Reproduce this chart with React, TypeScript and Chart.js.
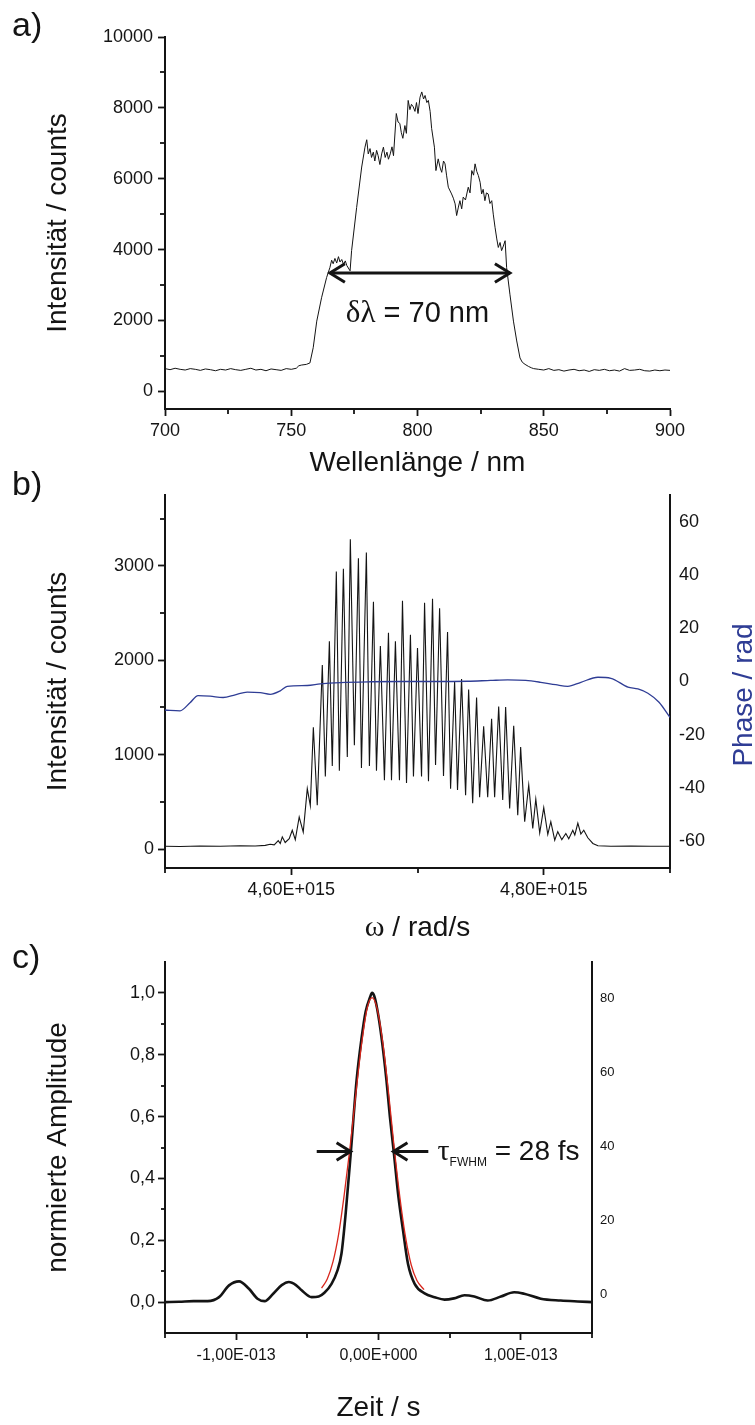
import React, { useEffect, useRef } from 'react';
import { Chart, registerables } from 'chart.js';

Chart.register(...registerables);

const SANS = '"Liberation Sans", Arial, Helvetica, sans-serif';
const SERIF = '"Liberation Serif", "Times New Roman", Times, serif';
const INK = '#141414';
const BLUE = '#2f3d95';
const RED = '#d8261c';

// ---------------- a) spectrum ----------------
const wavelengthA = [700, 702, 704, 706, 708, 710, 712, 714, 716, 718, 720, 722, 724, 726, 728, 730, 732, 734, 736, 738, 740, 742, 744, 746, 748, 750, 752, 753, 754, 756, 757.4, 758.7, 760.1, 762, 764, 765.3, 766, 766.6, 767.3, 768, 768.7, 769.3, 770, 770.7, 771.4, 772, 773.3, 773.9, 775.9, 777.9, 779.2, 779.9, 780.5, 781.2, 781.8, 782.5, 783.1, 783.8, 784.4, 785.1, 785.8, 786.5, 787.2, 787.9, 788.5, 789.2, 789.9, 790.5, 791.6, 792.3, 793, 793.6, 794.2, 795, 795.6, 796.3, 797, 797.6, 798.3, 799, 799.6, 800.2, 801, 801.7, 802.4, 803, 803.7, 804.3, 805, 805.6, 806.7, 807.3, 808.2, 809, 809.6, 810.3, 810.9, 811.5, 812.2, 813.5, 814.2, 814.9, 815.5, 816.2, 816.8, 817.5, 818.1, 819, 820.1, 820.8, 821.5, 822.2, 822.8, 823.5, 824.1, 824.8, 825.4, 826, 826.7, 827.3, 828, 828.7, 829.4, 830, 830.7, 831.4, 832, 832.7, 833.3, 834, 834.7, 835.3, 836.6, 838, 839.3, 840.6, 841.5, 842.6, 844, 845.2, 846, 848, 850, 852, 854, 856, 858, 860, 862, 864, 866, 868, 870, 872, 874, 876, 878, 880, 882, 884, 886, 888, 890, 892, 894, 896, 898, 900];
const countsA = [640, 610, 650, 620, 600, 640, 620, 590, 630, 610, 580, 620, 600, 640, 610, 590, 620, 650, 600, 620, 580, 630, 610, 590, 640, 620, 650, 720, 740, 760, 800, 1230, 1980, 2640, 3210, 3490, 3700, 3600, 3750, 3620, 3800, 3650, 3720, 3580, 3680, 3550, 3400, 3970, 5190, 6330, 6890, 7100, 6700, 6850, 6600, 6750, 6500, 6800, 6650, 6400, 6700, 6890, 6600, 6750, 6550, 6700, 6900, 6650, 7840, 7600, 7560, 7300, 7140, 7500, 7280, 8210, 7950, 8100, 8030, 7900, 8150, 7840, 8300, 8450, 8250, 8350, 8150, 8210, 7900, 7420, 6890, 6230, 6560, 6300, 6180, 6500, 6420, 6100, 5760, 5570, 5450, 5290, 4960, 5200, 5380, 5150, 5480, 5400, 5760, 5600, 6230, 6100, 6420, 6200, 6090, 5900, 5570, 5700, 5380, 5600, 5570, 5300, 5380, 5000, 4630, 4300, 4060, 4200, 3970, 4100, 4250, 3490, 2740, 1980, 1420, 940, 820, 760, 700, 660, 640, 620, 600, 640, 590, 610, 570, 600, 620, 580, 600, 560, 610, 590, 620, 580, 600, 570, 640, 590, 600, 620, 580, 570, 600, 580, 600, 590];
const xTicksA = [700, 750, 800, 850, 900];
const xMinorA = [725, 775, 825, 875];
const yTicksA = [0, 2000, 4000, 6000, 8000, 10000];
const yMinorA = [1000, 3000, 5000, 7000, 9000];
const bandwidthArrowA = { from: 765.3, to: 836.6, level: 3340 };

// ---------------- b) interference spectrum + phase ----------------
// omega in units of 1e15 rad/s
const omegaB = [4.5, 4.5119, 4.5278, 4.5437, 4.5595, 4.5714, 4.5794, 4.5833, 4.5865, 4.5897, 4.5913, 4.5929, 4.5952, 4.5984, 4.6008, 4.6032, 4.6063, 4.6095, 4.6127, 4.6151, 4.6175, 4.6206, 4.6246, 4.627, 4.6302, 4.6325, 4.6357, 4.6381, 4.6413, 4.6444, 4.6468, 4.65, 4.6532, 4.6556, 4.6595, 4.6619, 4.6651, 4.6675, 4.6706, 4.6738, 4.677, 4.6794, 4.6825, 4.6857, 4.6881, 4.6913, 4.6944, 4.6968, 4.7, 4.7032, 4.7056, 4.7087, 4.7119, 4.7143, 4.7175, 4.7206, 4.7238, 4.7262, 4.7294, 4.7317, 4.7349, 4.7381, 4.7405, 4.7437, 4.7468, 4.7492, 4.7524, 4.7556, 4.7587, 4.7611, 4.7643, 4.7675, 4.7698, 4.773, 4.7762, 4.7794, 4.7817, 4.7849, 4.7881, 4.7913, 4.7937, 4.7968, 4.8, 4.8032, 4.8056, 4.8087, 4.8111, 4.8143, 4.8175, 4.8198, 4.823, 4.8246, 4.827, 4.8294, 4.8317, 4.8349, 4.8389, 4.8429, 4.8532, 4.869, 4.8849, 4.9];
const countsB = [30, 28, 33, 30, 36, 33, 40, 52, 45, 90, 60, 130, 70, 110, 200, 100, 340, 180, 640, 460, 1290, 465, 1950, 770, 2200, 880, 2940, 830, 2970, 975, 3280, 1100, 3080, 860, 3140, 880, 2620, 830, 2150, 730, 2290, 730, 2200, 730, 2630, 700, 2270, 770, 2130, 770, 2610, 720, 2650, 890, 2550, 775, 2300, 640, 1775, 625, 1800, 570, 1690, 485, 1605, 550, 1300, 550, 1380, 550, 1510, 520, 1505, 430, 1305, 360, 1080, 290, 680, 220, 530, 170, 440, 155, 290, 95, 185, 100, 165, 110, 200, 150, 275, 160, 200, 120, 60, 35, 30, 32, 30, 30];
const omegaPhase = [4.5, 4.5119, 4.5198, 4.5262, 4.5357, 4.546, 4.5556, 4.5651, 4.5754, 4.5833, 4.5913, 4.5968, 4.6127, 4.623, 4.6389, 4.6627, 4.6865, 4.7103, 4.7397, 4.7579, 4.7714, 4.7857, 4.7976, 4.8095, 4.819, 4.8294, 4.8429, 4.8532, 4.8667, 4.8746, 4.8825, 4.8913, 4.9];
const phaseB = [-10.7, -11, -8, -5.3, -5.5, -6, -5, -4, -4.2, -4.8, -3.5, -1.8, -1.5, -0.9, -0.4, -0.1, 0, 0, 0.1, 0.4, 0.6, 0.4, -0.3, -1.2, -1.8, -0.3, 1.6, 1.2, -2.1, -2.8, -4.4, -7.8, -13.5];
const xTicksB = [4.6, 4.8];
const xTickLabelsB = ['4,60E+015', '4,80E+015'];
const xMinorB = [4.5, 4.7, 4.9];
const yTicksB = [0, 1000, 2000, 3000];
const yMinorB = [500, 1500, 2500, 3500];
const phaseTicksB = [-60, -40, -20, 0, 20, 40, 60];

// ---------------- c) autocorrelation / pulse ----------------
// time in femtoseconds
const timeC = [-150, -140, -130, -120, -112, -105, -98, -91, -85, -80, -74, -68, -63, -58, -54, -47, -42, -38, -33, -29, -26, -23, -19.4, -15.4, -12, -9, -6, -4.5, -3, -1, 2, 5.6, 8, 10.7, 14, 17.2, 20.7, 25.4, 32.4, 39.4, 46.4, 53, 60.4, 67.3, 76.7, 86, 95.3, 102.3, 114, 128, 140, 150];
const amplitudeC = [0, 0.001, 0.003, 0.003, 0.016, 0.054, 0.067, 0.043, 0.011, 0.003, 0.027, 0.055, 0.065, 0.055, 0.038, 0.016, 0.018, 0.03, 0.059, 0.1, 0.157, 0.29, 0.487, 0.717, 0.85, 0.94, 0.985, 1.0, 0.99, 0.95, 0.86, 0.717, 0.6, 0.487, 0.34, 0.233, 0.124, 0.059, 0.028, 0.016, 0.008, 0.012, 0.022, 0.018, 0.005, 0.018, 0.032, 0.027, 0.011, 0.005, 0.002, 0];
const fitTimeC = [-40, -36, -32, -28, -24, -20, -16, -12, -8, -4.5, -1, 3, 7, 11, 15, 19, 23, 27, 32];
const fitAmplitudeC = [0.045, 0.075, 0.13, 0.22, 0.35, 0.5, 0.67, 0.83, 0.95, 0.985, 0.95, 0.84, 0.68, 0.5, 0.34, 0.21, 0.12, 0.07, 0.04];
const xTicksC = [-100, 0, 100];
const xTickLabelsC = ['-1,00E-013', '0,00E+000', '1,00E-013'];
const xMinorC = [-150, -50, 50, 150];
const yTicksC = [0, 0.2, 0.4, 0.6, 0.8, 1.0];
const yTickLabelsC = ['0,0', '0,2', '0,4', '0,6', '0,8', '1,0'];
const yMinorC = [0.1, 0.3, 0.5, 0.7, 0.9];
const rightTicksC = [0, 20, 40, 60, 80];
const fwhmArrowsC = { level: 0.487, leftFrom: -43.4, leftTo: -19.6, rightFrom: 35, rightTo: 10.5 };

// ---------------- helpers ----------------
type Seg = { text: string; size: number; serif?: boolean; dy?: number };

const fontOf = (s: Seg) => `${s.size}px ${s.serif ? SERIF : SANS}`;

const decor = {
  id: 'decor',
  afterDraw(chart: any, _args: any, opts: any) {
    const ctx: CanvasRenderingContext2D = chart.ctx;
    ctx.save();
    (opts.minor || []).forEach((m: any) => {
      const s = chart.scales[m.axis];
      ctx.strokeStyle = INK;
      ctx.lineWidth = 1.8;
      m.values.forEach((v: number) => {
        const p = Math.round(s.getPixelForValue(v));
        ctx.beginPath();
        if (s.isHorizontal()) {
          ctx.moveTo(p, s.top);
          ctx.lineTo(p, s.top + m.len);
        } else {
          ctx.moveTo(s.right, p);
          ctx.lineTo(s.right - m.len, p);
        }
        ctx.stroke();
      });
    });
    (opts.arrows || []).forEach((a: any) => {
      const sx = chart.scales.x;
      const sy = chart.scales.y;
      const x1 = sx.getPixelForValue(a.x1);
      const x2 = sx.getPixelForValue(a.x2);
      const y = sy.getPixelForValue(a.y);
      ctx.strokeStyle = INK;
      ctx.lineWidth = a.width;
      ctx.lineCap = 'butt';
      ctx.lineJoin = 'miter';
      ctx.beginPath();
      ctx.moveTo(x1, y);
      ctx.lineTo(x2, y);
      ctx.stroke();
      const head = (tx: number, dir: number) => {
        ctx.beginPath();
        ctx.moveTo(tx - dir * a.head, y - a.head * 0.62);
        ctx.lineTo(tx, y);
        ctx.lineTo(tx - dir * a.head, y + a.head * 0.62);
        ctx.stroke();
      };
      const dir = Math.sign(x2 - x1);
      head(x2, dir);
      if (a.both) head(x1, -dir);
    });
    (opts.texts || []).forEach((t: any) => {
      let x = t.x;
      let y = t.y;
      if (t.data) {
        x = chart.scales.x.getPixelForValue(t.x);
        y = chart.scales.y.getPixelForValue(t.y);
      }
      ctx.fillStyle = t.color || INK;
      ctx.textBaseline = 'alphabetic';
      ctx.textAlign = 'left';
      let w = 0;
      t.segs.forEach((s: Seg) => {
        ctx.font = fontOf(s);
        w += ctx.measureText(s.text).width;
      });
      ctx.save();
      ctx.translate(x, y);
      if (t.rotate) ctx.rotate(-Math.PI / 2);
      let cx = t.align === 'center' ? -w / 2 : 0;
      t.segs.forEach((s: Seg) => {
        ctx.font = fontOf(s);
        ctx.fillText(s.text, cx, s.dy || 0);
        cx += ctx.measureText(s.text).width;
      });
      ctx.restore();
    });
    ctx.restore();
  },
};

const axisBase = (tickLen: number) => ({
  border: { display: true, color: INK, width: 2 },
  grid: {
    display: true,
    drawOnChartArea: false,
    drawTicks: tickLen > 0,
    tickLength: tickLen,
    tickWidth: 1.8,
    tickColor: INK,
    color: INK,
  },
});

const setTicks = (values: number[]) => (s: any) => {
  s.ticks = values.map((v) => ({ value: v }));
};

const labelFrom = (values: number[], labels: string[]) => (v: number) => {
  const i = values.findIndex((t) => Math.abs(t - v) < 1e-9);
  return i >= 0 ? labels[i] : '';
};

const leftTitle = (text: string) => ({
  display: true,
  text,
  color: INK,
  font: { size: 28, family: SANS },
  padding: { top: 41, bottom: 0 },
});

const bottomTitle = (text: string) => ({
  display: true,
  text,
  color: INK,
  font: { size: 28, family: SANS },
  padding: { top: 0, bottom: 0 },
});

function configA(): any {
  return {
    type: 'line',
    data: {
      datasets: [
        {
          data: wavelengthA.map((x, i) => ({ x, y: countsA[i] })),
          borderColor: INK,
          borderWidth: 1,
          pointRadius: 0,
          tension: 0,
        },
      ],
    },
    plugins: [decor],
    options: {
      responsive: false,
      animation: false,
      events: [],
      layout: { padding: { left: 0, right: 85, top: 37, bottom: 0 } },
      plugins: {
        legend: { display: false },
        tooltip: { enabled: false },
        decor: {
          minor: [
            { axis: 'x', values: xMinorA, len: 5 },
            { axis: 'y', values: yMinorA, len: 5 },
          ],
          arrows: [{ x1: bandwidthArrowA.from, x2: bandwidthArrowA.to, y: bandwidthArrowA.level, width: 3, head: 15, both: true }],
          texts: [
            { data: true, x: 800, y: 1950, align: 'center', segs: [{ text: 'δλ', size: 31, serif: true }, { text: ' = 70 nm', size: 29 }] },
            { x: 12, y: 36, segs: [{ text: 'a)', size: 34 }] },
          ],
        },
      },
      scales: {
        x: {
          type: 'linear',
          position: 'bottom',
          min: 700,
          max: 900,
          afterBuildTicks: setTicks(xTicksA),
          afterFit: (s: any) => { s.height = 71; },
          ...axisBase(7),
          ticks: { autoSkip: false, maxRotation: 0, color: INK, font: { size: 18, family: SANS }, padding: 4, callback: (v: number) => String(v) },
          title: bottomTitle('Wellenlänge / nm'),
        },
        y: {
          type: 'linear',
          position: 'left',
          min: -500,
          max: 10000,
          afterBuildTicks: setTicks(yTicksA),
          afterFit: (s: any) => { s.width = 165; },
          ...axisBase(7),
          ticks: { autoSkip: false, color: INK, font: { size: 18, family: SANS }, padding: 5, callback: (v: number) => String(v) },
          title: leftTitle('Intensität / counts'),
        },
      },
    },
  };
}

function configB(): any {
  return {
    type: 'line',
    data: {
      datasets: [
        {
          data: omegaPhase.map((x, i) => ({ x, y: phaseB[i] })),
          yAxisID: 'y2',
          borderColor: BLUE,
          borderWidth: 1.3,
          pointRadius: 0,
          tension: 0.35,
          cubicInterpolationMode: 'monotone',
        },
        {
          data: omegaB.map((x, i) => ({ x, y: countsB[i] })),
          yAxisID: 'y',
          borderColor: INK,
          borderWidth: 1.1,
          pointRadius: 0,
          tension: 0,
        },
      ],
    },
    plugins: [decor],
    options: {
      responsive: false,
      animation: false,
      events: [],
      layout: { padding: { left: 0, right: 0, top: 55, bottom: 0 } },
      plugins: {
        legend: { display: false },
        tooltip: { enabled: false },
        decor: {
          minor: [
            { axis: 'x', values: xMinorB, len: 5 },
            { axis: 'y', values: yMinorB, len: 5 },
          ],
          texts: [
            { x: 12, y: 55, segs: [{ text: 'b)', size: 34 }] },
            { x: 417.5, y: 496, align: 'center', segs: [{ text: 'ω', size: 30, serif: true }, { text: ' / rad/s', size: 28 }] },
            { x: 752, y: 255, align: 'center', rotate: true, color: BLUE, segs: [{ text: 'Phase / rad', size: 28 }] },
          ],
        },
      },
      scales: {
        x: {
          type: 'linear',
          position: 'bottom',
          min: 4.5,
          max: 4.9,
          afterBuildTicks: setTicks(xTicksB),
          afterFit: (s: any) => { s.height = 82; },
          ...axisBase(7),
          ticks: { autoSkip: false, maxRotation: 0, color: INK, font: { size: 18, family: SANS }, padding: 4, callback: labelFrom(xTicksB, xTickLabelsB) },
        },
        y: {
          type: 'linear',
          position: 'left',
          min: -200,
          max: 3750,
          afterBuildTicks: setTicks(yTicksB),
          afterFit: (s: any) => { s.width = 165; },
          ...axisBase(7),
          ticks: { autoSkip: false, color: INK, font: { size: 18, family: SANS }, padding: 4, callback: (v: number) => String(v) },
          title: leftTitle('Intensität / counts'),
        },
        y2: {
          type: 'linear',
          position: 'right',
          min: -70,
          max: 70,
          afterBuildTicks: setTicks(phaseTicksB),
          afterFit: (s: any) => { s.width = 85; },
          ...axisBase(0),
          ticks: { autoSkip: false, color: INK, font: { size: 18, family: SANS }, padding: 9, callback: (v: number) => String(v) },
        },
      },
    },
  };
}

function configC(): any {
  return {
    type: 'line',
    data: {
      datasets: [
        {
          data: fitTimeC.map((x, i) => ({ x, y: fitAmplitudeC[i] })),
          yAxisID: 'y',
          borderColor: RED,
          borderWidth: 1.3,
          pointRadius: 0,
          cubicInterpolationMode: 'monotone',
        },
        {
          data: timeC.map((x, i) => ({ x, y: amplitudeC[i] })),
          yAxisID: 'y',
          borderColor: INK,
          borderWidth: 2.6,
          pointRadius: 0,
          cubicInterpolationMode: 'monotone',
        },
      ],
    },
    plugins: [decor],
    options: {
      responsive: false,
      animation: false,
      events: [],
      layout: { padding: { left: 0, right: 0, top: 32, bottom: 0 } },
      plugins: {
        legend: { display: false },
        tooltip: { enabled: false },
        decor: {
          minor: [
            { axis: 'x', values: xMinorC, len: 5 },
            { axis: 'y', values: yMinorC, len: 4 },
          ],
          arrows: [
            { x1: fwhmArrowsC.leftFrom, x2: fwhmArrowsC.leftTo, y: fwhmArrowsC.level, width: 3, head: 14 },
            { x1: fwhmArrowsC.rightFrom, x2: fwhmArrowsC.rightTo, y: fwhmArrowsC.level, width: 3, head: 14 },
          ],
          texts: [
            { x: 12, y: 38, segs: [{ text: 'c)', size: 34 }] },
            {
              data: true, x: 41.5, y: 0.459,
              segs: [
                { text: 'τ', size: 30, serif: true },
                { text: 'FWHM', size: 12, dy: 6 },
                { text: ' = 28 fs', size: 28 },
              ],
            },
          ],
        },
      },
      scales: {
        x: {
          type: 'linear',
          position: 'bottom',
          min: -150,
          max: 150,
          afterBuildTicks: setTicks(xTicksC),
          afterFit: (s: any) => { s.height = 92; },
          ...axisBase(7),
          ticks: { autoSkip: false, maxRotation: 0, color: INK, font: { size: 16, family: SANS }, padding: 6, callback: labelFrom(xTicksC, xTickLabelsC) },
          title: bottomTitle('Zeit / s'),
        },
        y: {
          type: 'linear',
          position: 'left',
          min: -0.1,
          max: 1.1,
          afterBuildTicks: setTicks(yTicksC),
          afterFit: (s: any) => { s.width = 165; },
          ...axisBase(7),
          ticks: { autoSkip: false, color: INK, font: { size: 18, family: SANS }, padding: 3, callback: labelFrom(yTicksC, yTickLabelsC) },
          title: leftTitle('normierte Amplitude'),
        },
        y2: {
          type: 'linear',
          position: 'right',
          min: -10.5,
          max: 90,
          afterBuildTicks: setTicks(rightTicksC),
          afterFit: (s: any) => { s.width = 163; },
          ...axisBase(0),
          ticks: { autoSkip: false, color: INK, font: { size: 13, family: SANS }, padding: 8, callback: (v: number) => String(v) },
        },
      },
    },
  };
}

export default function App() {
  const refA = useRef<HTMLCanvasElement>(null);
  const refB = useRef<HTMLCanvasElement>(null);
  const refC = useRef<HTMLCanvasElement>(null);

  useEffect(() => {
    Chart.defaults.font.family = SANS;
    Chart.defaults.color = INK;
    const charts = [
      new Chart(refA.current as HTMLCanvasElement, configA()),
      new Chart(refB.current as HTMLCanvasElement, configB()),
      new Chart(refC.current as HTMLCanvasElement, configC()),
    ];
    return () => charts.forEach((c) => c.destroy());
  }, []);

  return (
    <div style={{ position: 'absolute', left: 0, top: 0, width: 755, height: 1425, background: '#ffffff', overflow: 'hidden' }}>
      <canvas ref={refA} width={755} height={480} style={{ position: 'absolute', left: 0, top: 0, display: 'block' }} />
      <canvas ref={refB} width={755} height={510} style={{ position: 'absolute', left: 0, top: 440, display: 'block' }} />
      <canvas ref={refC} width={755} height={495} style={{ position: 'absolute', left: 0, top: 930, display: 'block' }} />
    </div>
  );
}
